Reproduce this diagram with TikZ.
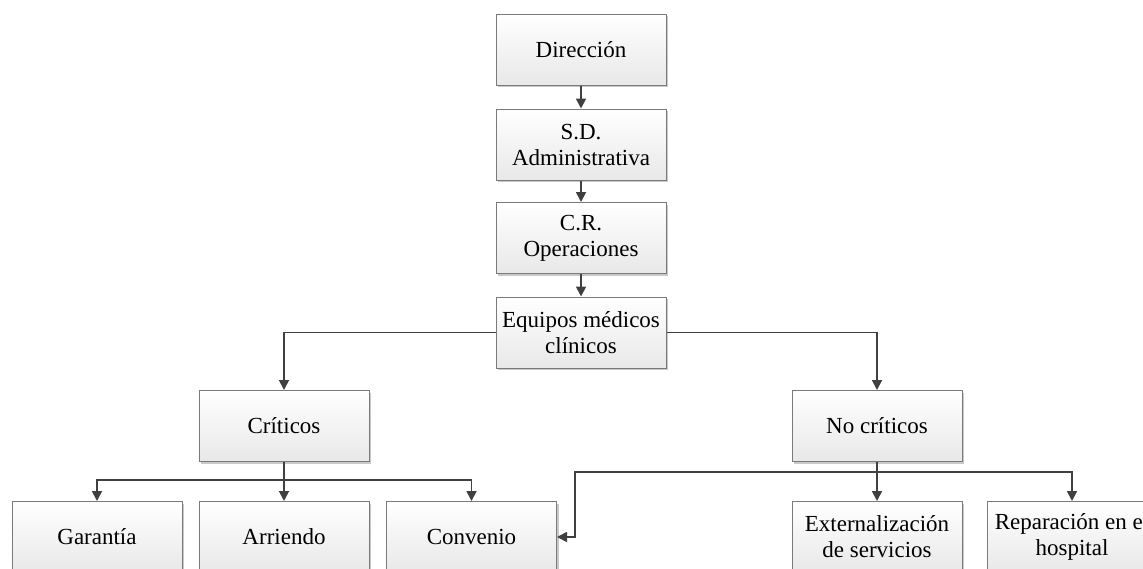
\documentclass[tikz,border=0pt]{standalone}
\usepackage{fontspec}
\setmainfont{Liberation Serif}
\usetikzlibrary{arrows.meta,shadows,calc}
\definecolor{boxline}{HTML}{7A7A7A}
\definecolor{connline}{HTML}{404040}
\begin{document}
\begin{tikzpicture}[x=0.5pt,y=-0.5pt,
  orgbox/.style={draw=boxline,line width=0.5pt,top color=white,bottom color=black!9,
    minimum width=85pt,minimum height=35.5pt,inner sep=1pt,align=center,
    font=\fontsize{11.5}{13}\selectfont,
    drop shadow={shadow xshift=1pt,shadow yshift=-1pt,opacity=0.35,fill=black!60}},
  conn/.style={draw=connline,line width=0.9pt,-{Triangle[length=5pt,width=5pt]}},
  plain/.style={draw=connline,line width=0.9pt}]
\clip (0,0) rectangle (1143,568);
\fill[white] (0,0) rectangle (1143,568);
% main chain
\node[orgbox] (dir) at (581,49.5) {Dirección};
\node[orgbox] (sd) at (581,144.5) {S.D.\\Administrativa};
\node[orgbox] (cr) at (581,238) {C.R.\\Operaciones};
\node[orgbox] (eq) at (581,332.5) {Equipos médicos\\clínicos};
% second level
\node[orgbox] (crit) at (284,426) {Críticos};
\node[orgbox] (nocrit) at (877,426) {No críticos};
% third level
\node[orgbox] (gar) at (97,537) {Garantía};
\node[orgbox] (arr) at (284,537) {Arriendo};
\node[orgbox] (conv) at (471.5,537) {Convenio};
\node[orgbox] (ext) at (877,537) {Externalización\\de servicios};
\node[orgbox] (rep) at (1072,537) {Reparación en el\\hospital};
% connectors
\draw[conn] (dir) -- (sd);
\draw[conn] (sd) -- (cr);
\draw[conn] (cr) -- (eq);
\draw[conn] (eq.west) -| (crit.north);
\draw[conn] (eq.east) -| (nocrit.north);
\draw[conn] (crit.south) -- ++(0,18) -| (gar.north);
\draw[conn] (crit.south) -- (arr.north);
\draw[conn] (crit.south) -- ++(0,18) -| (conv.north);
\coordinate (cbend) at ($(conv.east)+(18,0)$);
\draw[conn] (nocrit.south) -- ++(0,10) -| (cbend) -- (conv.east);
\draw[conn] (nocrit.south) -- (ext.north);
\draw[conn] (nocrit.south) -- ++(0,10) -| (rep.north);
\end{tikzpicture}
\end{document}
